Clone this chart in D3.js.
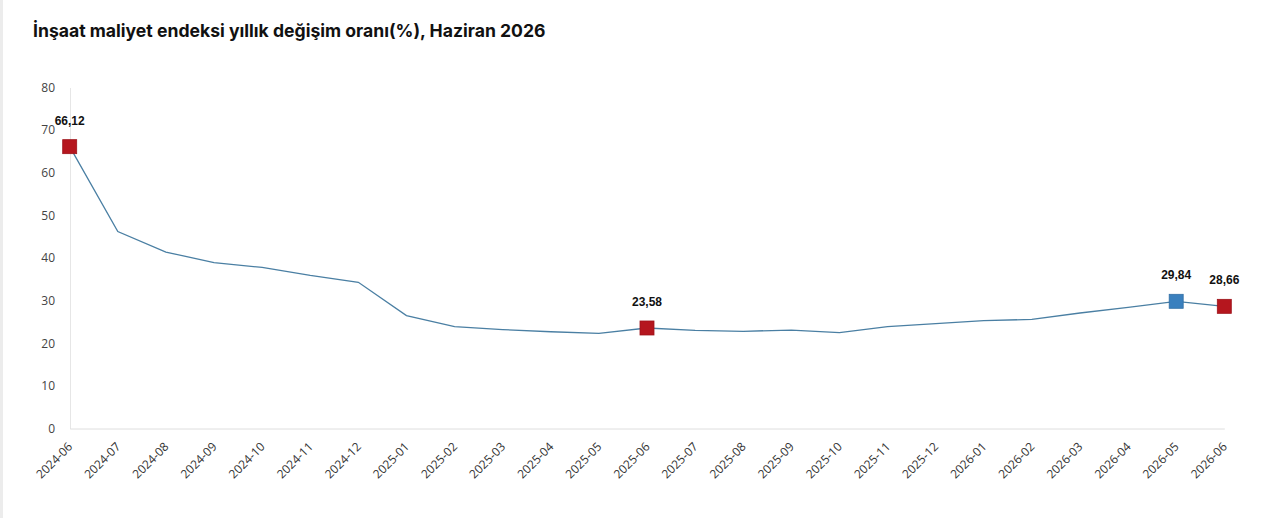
<!DOCTYPE html>
<html><head><meta charset="utf-8">
<script src="https://cdn.jsdelivr.net/npm/d3@7"></script>
<style>
html,body{margin:0;padding:0;background:#fff;}
svg{display:block;}
</style></head>
<body>
<svg id="chart" width="1280" height="518"></svg>
<script>
const months = ["2024-06","2024-07","2024-08","2024-09","2024-10","2024-11","2024-12","2025-01","2025-02","2025-03","2025-04","2025-05","2025-06","2025-07","2025-08","2025-09","2025-10","2025-11","2025-12","2026-01","2026-02","2026-03","2026-04","2026-05","2026-06"];
const values = [66.12,46.2,41.4,38.9,37.8,35.9,34.3,26.5,23.9,23.2,22.7,22.3,23.58,23.0,22.8,23.1,22.5,23.9,24.6,25.3,25.6,27.1,28.4,29.84,28.66];
const yTicks = [0,10,20,30,40,50,60,70,80];
const highlighted = [
  {month:"2024-06", label:"66,12", color:"#b5161e"},
  {month:"2025-06", label:"23,58", color:"#b5161e"},
  {month:"2026-05", label:"29,84", color:"#3a80be"},
  {month:"2026-06", label:"28,66", color:"#b5161e"}
];
const title = "İnşaat maliyet endeksi yıllık değişim oranı(%), Haziran 2026";

const svg = d3.select("#chart");
svg.append("rect").attr("x",0).attr("y",0).attr("width",3).attr("height",518).attr("fill","#ececec");

const x = d3.scalePoint().domain(months).range([69.7, 1224.3]);
const y = d3.scaleLinear().domain([0,80]).range([428.5, 87.5]);

svg.append("text").attr("x",33).attr("y",37)
  .attr("font-family","Inter, 'Noto Sans', sans-serif").attr("font-weight",700)
  .attr("font-size",17.6).attr("fill","#111").text(title);

// y axis
const yAxis = svg.append("g").attr("transform","translate(70,0)")
  .call(d3.axisLeft(y).tickValues(yTicks).tickSize(0).tickPadding(15));
yAxis.select(".domain").attr("stroke","#e6e6e6").attr("stroke-width",1);
yAxis.selectAll("text").attr("font-family","'Open Sans', sans-serif").attr("font-size",12).attr("fill","#444");

// x axis
const xAxis = svg.append("g").attr("transform","translate(0,428.5)")
  .call(d3.axisBottom(x).tickSize(0).tickPadding(0));
xAxis.select(".domain").attr("stroke","#dedede").attr("stroke-width",1);
xAxis.selectAll("text")
  .attr("font-family","'Open Sans', sans-serif").attr("font-size",12).attr("fill","#333")
  .attr("text-anchor","end").attr("dy",null).attr("y",0)
  .attr("transform","translate(3,19) rotate(-45)");

// line
const data = months.map((m,i)=>({m, v: values[i]}));
svg.append("path").datum(data)
  .attr("fill","none").attr("stroke","#4a7fa3").attr("stroke-width",1.3)
  .attr("d", d3.line().x(d=>x(d.m)).y(d=>y(d.v)));

// markers
const hl = highlighted.map(h=>({...h, v: values[months.indexOf(h.month)]}));
const s = 14;
svg.selectAll("rect.mk").data(hl).enter().append("rect").attr("class","mk")
  .attr("x", d=>x(d.month)-s/2).attr("y", d=>y(d.v)-s/2)
  .attr("width", s).attr("height", s)
  .attr("fill", d=>d.color).attr("stroke", d=>d3.color(d.color).darker(0.4)).attr("stroke-width",0.8);

svg.selectAll("text.lbl").data(hl).enter().append("text").attr("class","lbl")
  .attr("x", d=>x(d.month)).attr("y", d=>y(d.v)-22)
  .attr("text-anchor","middle")
  .attr("font-family","'Liberation Sans', Arial, sans-serif").attr("font-weight",700)
  .attr("font-size",12).attr("fill","#111").text(d=>d.label);
</script>
</body></html>
